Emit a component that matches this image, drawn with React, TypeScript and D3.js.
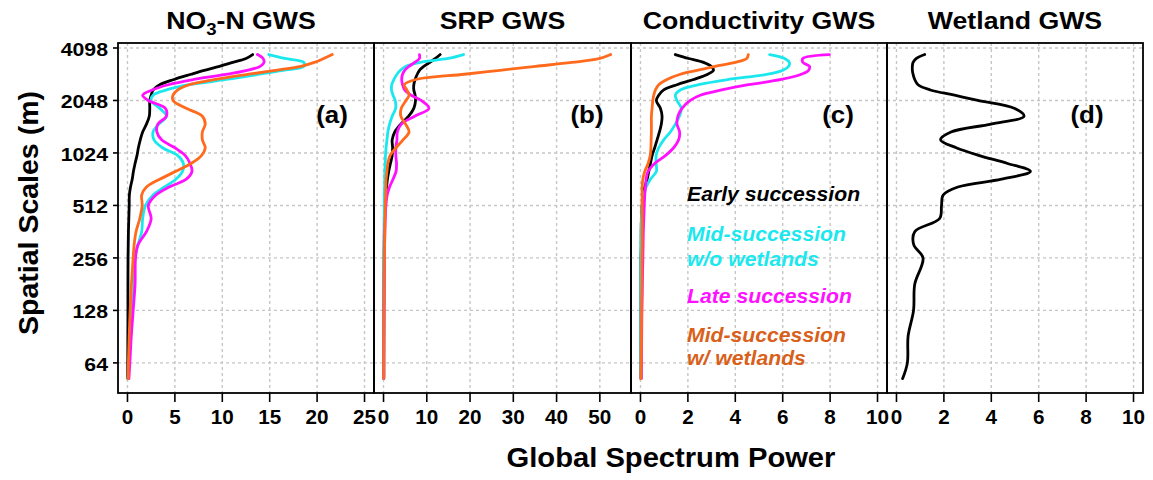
import React from "react";
import * as d3 from "d3";

// Spatial scales (m) at which every curve is sampled (top to bottom)
const scales = [3756, 3566, 3385, 3214, 3050, 2896, 2702, 2521, 2353, 2195, 2048, 1846, 1664, 1499, 1351, 1218, 1097, 989, 891, 803, 724, 653, 588, 512, 431, 362, 304, 256, 181, 128, 91, 64, 52];

// (a) NO3-N GWS
const no3Early = [13.2, 12.5, 11.1, 9.7, 8.1, 6.7, 4.9, 3.4, 2.7, 2.5, 2.35, 2.35, 2.3, 2.0, 1.6, 1.35, 1.15, 1.0, 0.8, 0.63, 0.5, 0.32, 0.2, 0.18, 0.14, 0.1, 0.08, 0.06, 0.05, 0.05, 0.04, 0.03, 0.03];
const no3MidNoWet = [14.9, 16.6, 18.6, 18.6, 16.4, 13.9, 10.4, 6.5, 4.1, 2.7, 2.5, 3.4, 4.1, 3.3, 2.7, 2.8, 3.7, 5.3, 5.9, 5.8, 5.1, 3.9, 2.7, 1.9, 1.6, 1.5, 1.1, 0.8, 0.7, 0.5, 0.3, 0.15, 0.07];
const no3Late = [13.7, 14.3, 14.4, 14.0, 12.6, 10.5, 7.0, 4.3, 2.6, 1.6, 2.2, 4.0, 4.1, 3.2, 3.1, 3.6, 5.0, 6.1, 6.6, 6.8, 6.2, 4.4, 3.0, 2.2, 2.5, 2.0, 1.1, 0.85, 0.8, 0.6, 0.4, 0.25, 0.15];
const no3MidWet = [21.6, 20.7, 19.7, 18.3, 15.6, 12.8, 9.3, 6.5, 5.3, 4.8, 4.8, 6.2, 7.9, 8.2, 7.9, 7.9, 8.2, 7.8, 6.7, 5.1, 3.4, 2.0, 1.5, 1.55, 1.3, 0.9, 0.7, 0.6, 0.42, 0.28, 0.18, 0.1, 0.07];

// (b) SRP GWS
const srpEarly = [13.1, 12.0, 10.7, 9.3, 8.3, 7.8, 7.3, 7.0, 7.0, 7.3, 7.4, 7.0, 5.8, 4.0, 2.6, 2.0, 2.1, 2.0, 1.6, 1.2, 0.9, 0.7, 0.5, 0.35, 0.25, 0.2, 0.15, 0.12, 0.1, 0.08, 0.06, 0.05, 0.05];
const srpMidNoWet = [18.5, 14.9, 8.5, 5.2, 3.9, 3.1, 2.4, 1.9, 1.85, 2.2, 2.7, 2.8, 2.0, 1.4, 1.0, 0.8, 0.6, 0.45, 0.4, 0.3, 0.28, 0.25, 0.2, 0.18, 0.15, 0.12, 0.1, 0.08, 0.06, 0.05, 0.05, 0.04, 0.04];
const srpLate = [8.3, 8.3, 7.2, 5.9, 4.9, 4.4, 4.2, 4.4, 4.9, 6.4, 8.7, 10.5, 7.2, 4.1, 3.2, 3.1, 2.85, 2.85, 3.0, 2.9, 2.2, 1.4, 0.85, 0.55, 0.4, 0.3, 0.25, 0.2, 0.15, 0.12, 0.1, 0.08, 0.07];
const srpMidWet = [52.5, 50.0, 43.5, 35.2, 26.9, 18.7, 7.5, 4.8, 5.4, 5.9, 5.2, 4.1, 4.0, 5.1, 5.9, 4.5, 2.9, 1.5, 1.0, 0.8, 0.6, 0.55, 0.5, 0.4, 0.35, 0.3, 0.25, 0.2, 0.15, 0.1, 0.08, 0.06, 0.05];

// (c) Conductivity GWS
const condEarly = [1.47, 2.03, 2.66, 2.98, 3.08, 2.84, 2.24, 1.54, 0.98, 0.77, 0.67, 0.84, 0.91, 0.88, 0.8, 0.7, 0.6, 0.49, 0.42, 0.35, 0.28, 0.18, 0.11, 0.07, 0.04, 0.03, 0.03, 0.02, 0.02, 0.02, 0.02, 0.02, 0.02];
const condMidNoWet = [5.45, 6.08, 6.28, 6.25, 6.01, 5.38, 3.71, 2.45, 1.68, 1.47, 1.54, 1.72, 1.64, 1.47, 1.26, 0.98, 0.77, 0.66, 0.66, 0.67, 0.42, 0.24, 0.14, 0.07, 0.04, 0.03, 0.02, 0.02, 0.02, 0.02, 0.02, 0.02, 0.02];
const condLate = [7.97, 6.85, 6.85, 7.13, 7.09, 6.78, 5.94, 4.55, 3.43, 2.52, 2.1, 1.75, 1.58, 1.54, 1.65, 1.61, 1.4, 1.05, 0.6, 0.32, 0.24, 0.21, 0.18, 0.16, 0.14, 0.12, 0.11, 0.1, 0.08, 0.06, 0.05, 0.04, 0.03];
const condMidWet = [4.55, 4.48, 3.99, 3.15, 2.38, 1.68, 1.12, 0.77, 0.63, 0.56, 0.52, 0.49, 0.46, 0.46, 0.46, 0.45, 0.44, 0.41, 0.32, 0.18, 0.1, 0.07, 0.07, 0.07, 0.07, 0.07, 0.07, 0.06, 0.06, 0.05, 0.04, 0.03, 0.02];

// (d) Wetland GWS
const wetland = [1.19, 0.84, 0.7, 0.67, 0.67, 0.7, 0.77, 0.91, 1.43, 2.45, 3.43, 4.97, 5.38, 3.99, 2.3, 1.86, 2.52, 3.5, 4.69, 5.65, 4.43, 2.59, 1.97, 1.9, 1.82, 0.77, 0.73, 1.12, 0.77, 0.72, 0.49, 0.46, 0.26];

// Axes
const yTickValues = [64, 128, 256, 512, 1024, 2048, 4096];
const yTickLabels = ["64", "128", "256", "512", "1024", "2048", "4098"];
const yDomain = [43, 4375];
const xLimits = [[0, 25], [0, 55], [0, 10], [0, 10]];
const xTicks = [[0, 5, 10, 15, 20, 25], [0, 10, 20, 30, 40, 50], [0, 2, 4, 6, 8, 10], [0, 2, 4, 6, 8, 10]];
const panelTitles = ["NO3-N GWS", "SRP GWS", "Conductivity GWS", "Wetland GWS"];
const panelTags = ["(a)", "(b)", "(c)", "(d)"];
const legendLabels = [["Early succession"], ["Mid-succession", "w/o wetlands"], ["Late succession"], ["Mid-succession", "w/ wetlands"]];

const COLORS = { early: "#000000", midNoWet: "#1BE8EE", late: "#FF10FF", midWet: "#FF6A1C" };
const LEGEND_COLORS = ["#000000", "#1BE8EE", "#FF10FF", "#D9601A"];

const panelSeries = [
  [
    { v: no3Early, c: COLORS.early },
    { v: no3MidNoWet, c: COLORS.midNoWet },
    { v: no3Late, c: COLORS.late },
    { v: no3MidWet, c: COLORS.midWet },
  ],
  [
    { v: srpEarly, c: COLORS.early },
    { v: srpMidNoWet, c: COLORS.midNoWet },
    { v: srpLate, c: COLORS.late },
    { v: srpMidWet, c: COLORS.midWet },
  ],
  [
    { v: condEarly, c: COLORS.early },
    { v: condMidNoWet, c: COLORS.midNoWet },
    { v: condLate, c: COLORS.late },
    { v: condMidWet, c: COLORS.midWet },
  ],
  [{ v: wetland, c: COLORS.early }],
];

const W = 1153;
const H = 480;
const TOP = 43;
const BOTTOM = 393;
const EDGES = [118, 374, 631, 887, 1143];
const TAG_X = [332, 587, 838, 1087];
const FONT = "'Liberation Sans', Arial, Helvetica, sans-serif";

export default function App() {
  const y = d3.scaleLog().base(2).domain(yDomain).range([BOTTOM, TOP]);

  const panels = xLimits.map((lim, i) => {
    const pad = (lim[1] - lim[0]) * 0.04;
    return d3.scaleLinear().domain([lim[0] - pad, lim[1] + pad]).range([EDGES[i], EDGES[i + 1]]);
  });

  return (
    <svg width={W} height={H} style={{ position: "absolute", left: 0, top: 0, background: "#fff" }} fontFamily={FONT}>
      <rect x={0} y={0} width={W} height={H} fill="#fff" />
      {panels.map((x, i) => {
        const line = d3
          .line<number>()
          .x((d) => x(d))
          .y((_, k) => y(scales[k]))
          .curve(d3.curveCatmullRom.alpha(0.5));
        const left = EDGES[i];
        const right = EDGES[i + 1];
        const cx = (left + right) / 2;
        return (
          <g key={i}>
            {xTicks[i].map((t) => (
              <line key={"gx" + t} x1={x(t)} x2={x(t)} y1={TOP} y2={BOTTOM} stroke="#c6c6c6" strokeWidth={1.4} strokeDasharray="3,3" />
            ))}
            {yTickValues.map((t) => (
              <line key={"gy" + t} x1={left} x2={right} y1={y(t)} y2={y(t)} stroke="#c6c6c6" strokeWidth={1.4} strokeDasharray="3,3" />
            ))}
            {panelSeries[i].map((s, k) => (
              <path key={k} d={line(s.v) || ""} fill="none" stroke={s.c} strokeWidth={2.8} strokeLinejoin="round" strokeLinecap="round" />
            ))}
            <rect x={left} y={TOP} width={right - left} height={BOTTOM - TOP} fill="none" stroke="#000" strokeWidth={1.8} />
            {xTicks[i].map((t) => (
              <g key={"xt" + t}>
                <line x1={x(t)} x2={x(t)} y1={BOTTOM} y2={BOTTOM + 9} stroke="#000" strokeWidth={1.6} />
                <text transform={`translate(${x(t)},${424}) scale(1.06,1)`} textAnchor="middle" fontSize={19.5} fontWeight="bold">
                  {t}
                </text>
              </g>
            ))}
            {i === 0 ? (
              <text transform={`translate(${cx - 5},29) scale(1.16,1)`} textAnchor="middle" fontSize={23} fontWeight="bold">
                <tspan>NO</tspan>
                <tspan fontSize={16} dy={6}>3</tspan>
                <tspan dy={-6}>-N GWS</tspan>
              </text>
            ) : (
              <text transform={`translate(${cx},29) scale(1.16,1)`} textAnchor="middle" fontSize={23} fontWeight="bold">
                {panelTitles[i]}
              </text>
            )}
            <text transform={`translate(${TAG_X[i]},123) scale(1.08,1)`} textAnchor="middle" fontSize={24} fontWeight="bold">
              {panelTags[i]}
            </text>
          </g>
        );
      })}

      {yTickValues.map((t, k) => (
        <g key={"yt" + t}>
          <line x1={EDGES[0] - 5} x2={EDGES[0]} y1={y(t)} y2={y(t)} stroke="#000" strokeWidth={1.6} />
          <text transform={`translate(108,${y(t) + 8}) scale(1.15,1)`} textAnchor="end" fontSize={18.5} fontWeight="bold">
            {yTickLabels[k]}
          </text>
        </g>
      ))}

      {(() => {
        const baselines = [[201], [241, 266], [303], [342, 365]];
        return legendLabels.map((lines, k) =>
          lines.map((txt, j) => (
            <text key={k + "-" + j} transform={`translate(687,${baselines[k][j]}) scale(1.06,1)`} fontSize={20} fontWeight="bold" fontStyle="italic" fill={LEGEND_COLORS[k]}>
              {txt}
            </text>
          ))
        );
      })()}

      <text transform="translate(671,467) scale(1.08,1)" textAnchor="middle" fontSize={27} fontWeight="bold">
        Global Spectrum Power
      </text>
      <text transform="translate(38,213) rotate(-90)" textAnchor="middle" fontSize={28.5} fontWeight="bold">
        Spatial Scales (m)
      </text>
    </svg>
  );
}
